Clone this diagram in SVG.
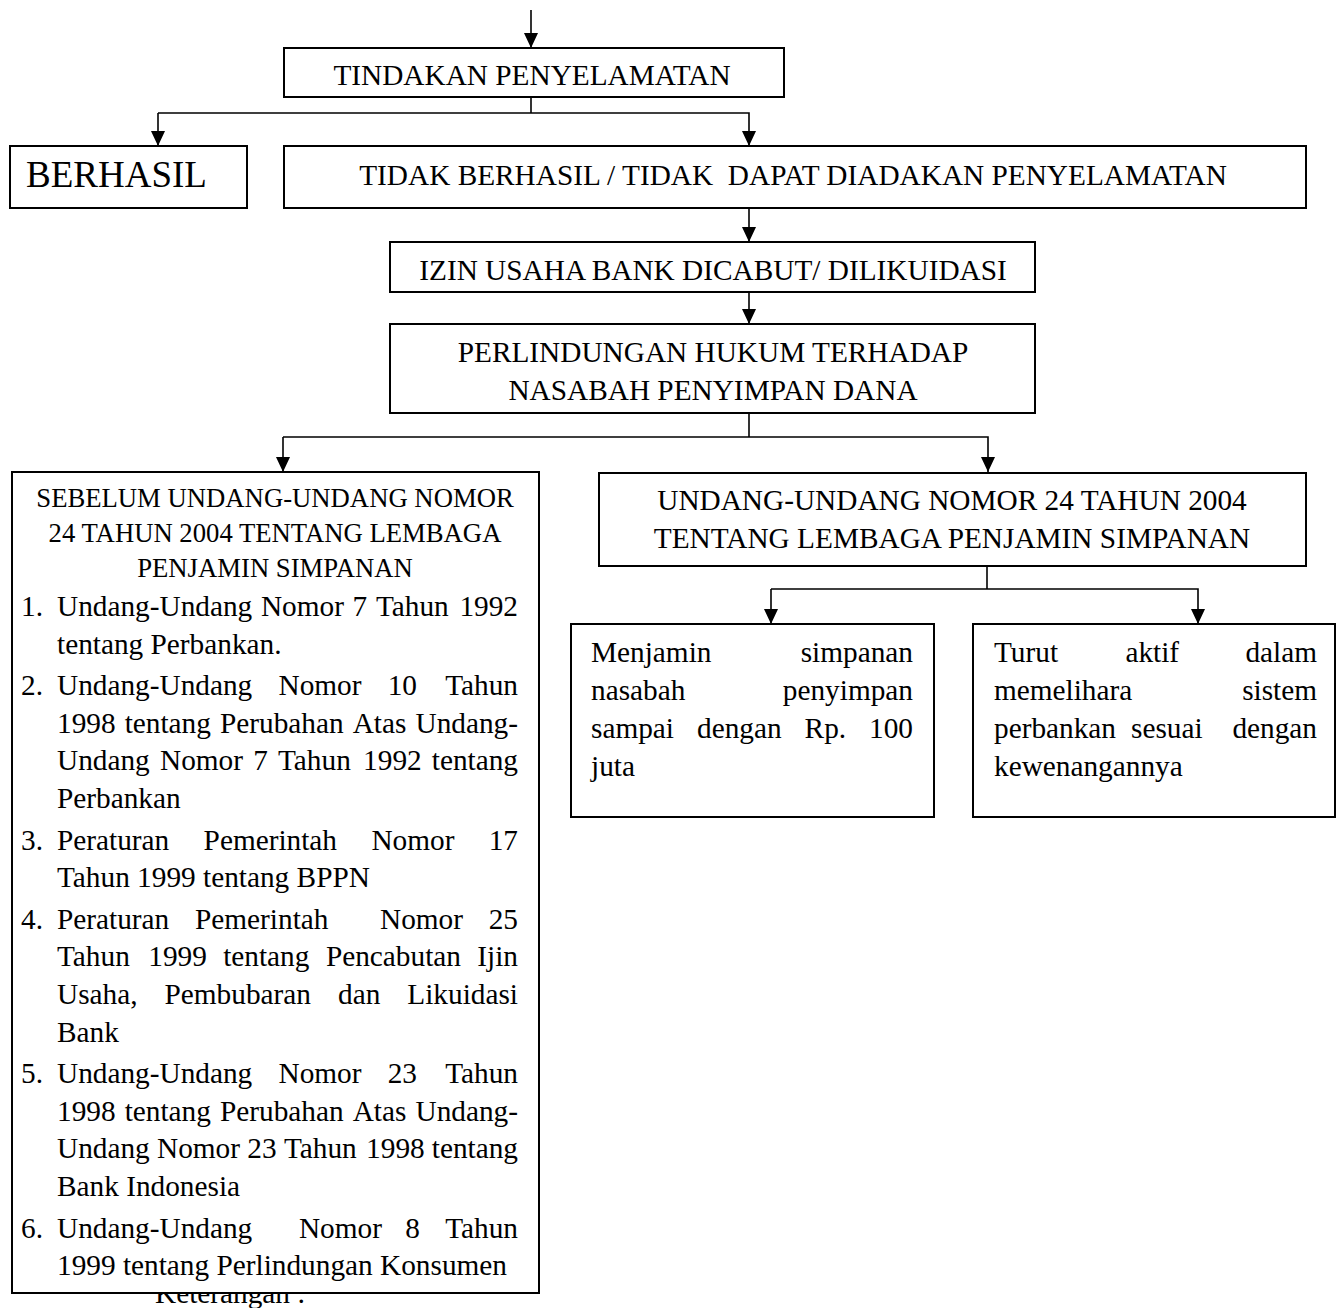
<svg xmlns="http://www.w3.org/2000/svg" width="1337" height="1308" viewBox="0 0 1337 1308">
<style>
.box{fill:#fff;stroke:#000;stroke-width:2}
.ln{fill:none;stroke:#000;stroke-width:1.6}
.t{font-family:"Liberation Serif","Times New Roman",serif;font-size:29.3px;fill:#000}
.h{font-family:"Liberation Serif","Times New Roman",serif;font-size:26.7px;fill:#000}
.c{text-anchor:middle}
.e{text-anchor:end}
</style>
<defs>
<marker id="ah" viewBox="0 0 15 14" refX="15" refY="7" markerWidth="15" markerHeight="14" markerUnits="userSpaceOnUse" orient="auto">
<path d="M0,0 L15,7 L0,14 z" fill="#000"/>
</marker>
</defs>
<rect width="1337" height="1308" fill="#fff"/>
<text class="t" x="155" y="1303">Keterangan :</text>
<g id="connectors">
<line class="ln" x1="531" y1="10" x2="531" y2="48" marker-end="url(#ah)"/>
<polyline class="ln" points="531,97 531,113"/>
<polyline class="ln" points="158,113 749,113 749,146" marker-end="url(#ah)"/>
<line class="ln" x1="158" y1="113" x2="158" y2="146" marker-end="url(#ah)"/>
<line class="ln" x1="749" y1="208" x2="749" y2="242" marker-end="url(#ah)"/>
<line class="ln" x1="749" y1="292" x2="749" y2="324" marker-end="url(#ah)"/>
<polyline class="ln" points="749,413 749,437"/>
<polyline class="ln" points="283,437 988,437 988,472" marker-end="url(#ah)"/>
<line class="ln" x1="283" y1="437" x2="283" y2="472" marker-end="url(#ah)"/>
<polyline class="ln" points="987,566 987,589"/>
<polyline class="ln" points="771,589 1198,589 1198,624" marker-end="url(#ah)"/>
<line class="ln" x1="771" y1="589" x2="771" y2="624" marker-end="url(#ah)"/>
</g>
<g id="tindakan">
<rect class="box" x="284" y="48" width="500" height="49"/>
<text class="t c" x="532" y="85">TINDAKAN PENYELAMATAN</text>
</g>
<g id="berhasil">
<rect class="box" x="10" y="146" width="237" height="62"/>
<text class="t c" x="116.5" y="187" style="font-size:37px">BERHASIL</text>
</g>
<g id="tidak-berhasil">
<rect class="box" x="284" y="146" width="1022" height="62"/>
<text class="t c" x="793" y="185" style="white-space:pre">TIDAK BERHASIL / TIDAK  DAPAT DIADAKAN PENYELAMATAN</text>
</g>
<g id="izin">
<rect class="box" x="390" y="242" width="645" height="50"/>
<text class="t c" x="713" y="280">IZIN USAHA BANK DICABUT/ DILIKUIDASI</text>
</g>
<g id="perlindungan">
<rect class="box" x="390" y="324" width="645" height="89"/>
<text class="t c" x="713" y="362">PERLINDUNGAN HUKUM TERHADAP</text>
<text class="t c" x="713" y="400">NASABAH PENYIMPAN DANA</text>
</g>
<g id="sebelum">
<rect class="box" x="12" y="472" width="527" height="821"/>
<text class="h c" x="275" y="507">SEBELUM UNDANG-UNDANG NOMOR</text>
<text class="h c" x="275" y="542">24 TAHUN 2004 TENTANG LEMBAGA</text>
<text class="h c" x="275" y="577">PENJAMIN SIMPANAN</text>
<text class="t" y="616"><tspan x="21">1.</tspan><tspan x="57">Undang-Undang</tspan><tspan x="260.9">Nomor</tspan><tspan x="352.6">7</tspan><tspan x="375.9">Tahun</tspan><tspan x="518" class="e">1992</tspan></text>
<text class="t" x="57" y="653.6">tentang Perbankan.</text>
<text class="t" y="695"><tspan x="21">2.</tspan><tspan x="57">Undang-Undang</tspan><tspan x="278.5">Nomor</tspan><tspan x="387.7">10</tspan><tspan x="518" class="e">Tahun</tspan></text>
<text class="t" y="733"><tspan x="57">1998</tspan><tspan x="124.7">tentang</tspan><tspan x="220">Perubahan</tspan><tspan x="352.7">Atas</tspan><tspan x="518" class="e">Undang-</tspan></text>
<text class="t" y="770"><tspan x="57">Undang</tspan><tspan x="160">Nomor</tspan><tspan x="253.2">7</tspan><tspan x="278">Tahun</tspan><tspan x="363.1">1992</tspan><tspan x="518" class="e">tentang</tspan></text>
<text class="t" x="57" y="808">Perbankan</text>
<text class="t" y="849.6"><tspan x="21">3.</tspan><tspan x="57">Peraturan</tspan><tspan x="203.6">Pemerintah</tspan><tspan x="371.4">Nomor</tspan><tspan x="518" class="e">17</tspan></text>
<text class="t" x="57" y="887">Tahun 1999 tentang BPPN</text>
<text class="t" y="929"><tspan x="21">4.</tspan><tspan x="57">Peraturan</tspan><tspan x="195">Pemerintah</tspan><tspan x="380">Nomor</tspan><tspan x="518" class="e">25</tspan></text>
<text class="t" y="966"><tspan x="57">Tahun</tspan><tspan x="148.3">1999</tspan><tspan x="223.2">tentang</tspan><tspan x="325.9">Pencabutan</tspan><tspan x="518" class="e">Ijin</tspan></text>
<text class="t" y="1004"><tspan x="57">Usaha,</tspan><tspan x="164.5">Pembubaran</tspan><tspan x="338">dan</tspan><tspan x="518" class="e">Likuidasi</tspan></text>
<text class="t" x="57" y="1042">Bank</text>
<text class="t" y="1083"><tspan x="21">5.</tspan><tspan x="57">Undang-Undang</tspan><tspan x="278.5">Nomor</tspan><tspan x="387.7">23</tspan><tspan x="518" class="e">Tahun</tspan></text>
<text class="t" y="1121"><tspan x="57">1998</tspan><tspan x="124.7">tentang</tspan><tspan x="220">Perubahan</tspan><tspan x="352.7">Atas</tspan><tspan x="518" class="e">Undang-</tspan></text>
<text class="t" y="1158"><tspan x="57">Undang</tspan><tspan x="157">Nomor</tspan><tspan x="247.3">23</tspan><tspan x="283.9">Tahun</tspan><tspan x="366.1">1998</tspan><tspan x="518" class="e">tentang</tspan></text>
<text class="t" x="57" y="1196">Bank Indonesia</text>
<text class="t" y="1238"><tspan x="21">6.</tspan><tspan x="57">Undang-Undang</tspan><tspan x="298.9">Nomor</tspan><tspan x="405.2">8</tspan><tspan x="518" class="e">Tahun</tspan></text>
<text class="t" x="57" y="1275">1999 tentang Perlindungan Konsumen</text>
</g>
<g id="uu24">
<rect class="box" x="599" y="473" width="707" height="93"/>
<text class="t c" x="952" y="510">UNDANG-UNDANG NOMOR 24 TAHUN 2004</text>
<text class="t c" x="952" y="548">TENTANG LEMBAGA PENJAMIN SIMPANAN</text>
</g>
<g id="menjamin">
<rect class="box" x="571" y="624" width="363" height="193"/>
<text class="t" y="662"><tspan x="591">Menjamin</tspan><tspan x="913" class="e">simpanan</tspan></text>
<text class="t" y="700"><tspan x="591">nasabah</tspan><tspan x="913" class="e">penyimpan</tspan></text>
<text class="t" y="738"><tspan x="591">sampai</tspan><tspan x="697">dengan</tspan><tspan x="804.6">Rp.</tspan><tspan x="913" class="e">100</tspan></text>
<text class="t" x="591" y="776">juta</text>
</g>
<g id="turut">
<rect class="box" x="973" y="624" width="362" height="193"/>
<text class="t" y="662"><tspan x="994">Turut</tspan><tspan x="1125.4">aktif</tspan><tspan x="1317" class="e">dalam</tspan></text>
<text class="t" y="700"><tspan x="994">memelihara</tspan><tspan x="1317" class="e">sistem</tspan></text>
<text class="t" y="738"><tspan x="994">perbankan</tspan><tspan x="1131">sesuai</tspan><tspan x="1317" class="e">dengan</tspan></text>
<text class="t" x="994" y="776">kewenangannya</text>
</g>
</svg>
